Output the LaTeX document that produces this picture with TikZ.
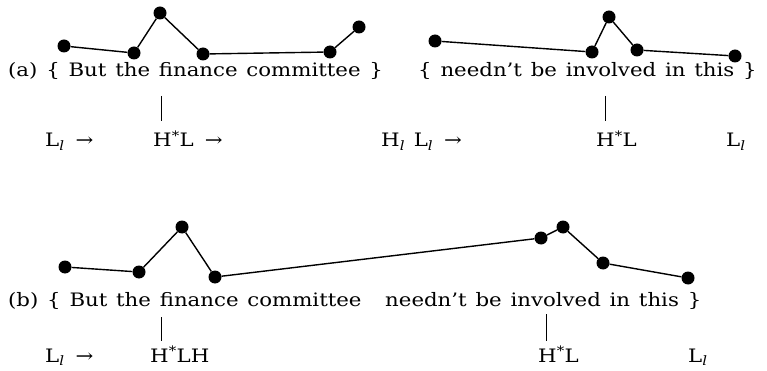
\documentclass[tikz,border=0pt]{standalone}
\usepackage{fontspec}
\setmainfont[FakeStretch=1.15,WordSpace=1.3]{DejaVu Serif}
\usepackage{tikz}
\usetikzlibrary{positioning}

\newcommand{\Lsub}{L\textsubscript{\itshape l}}
\newcommand{\Hsub}{H\textsubscript{\itshape l}}
\newcommand{\Hstar}{H\textsuperscript{*}}
\newcommand{\toarr}{\hspace{11pt}→}

\begin{document}
\begin{tikzpicture}[
  x=1pt, y=-1pt,
  every node/.style={font=\fontsize{18.5}{22}\selectfont},
  dot/.style={circle, fill=black, inner sep=0pt, minimum size=13pt},
  words/.style={anchor=base west, inner sep=0pt},
  tone/.style={anchor=base west, inner sep=0pt},
  contour/.style={line width=1.4pt},
  assoc/.style={line width=0.9pt}
]
\useasboundingbox (0,0) rectangle (767,371);

% (a) two phrases
\node[dot] (a1)  at (64,46)  {};
\node[dot] (a2)  at (134,53) {};
\node[dot] (a3)  at (160,13) {};
\node[dot] (a4)  at (203,54) {};
\node[dot] (a5)  at (330,52) {};
\node[dot] (a6)  at (359,27) {};
\node[dot] (a7)  at (435,41) {};
\node[dot] (a8)  at (592,52) {};
\node[dot] (a9)  at (609,17) {};
\node[dot] (a10) at (637,50) {};
\node[dot] (a11) at (735,56) {};
\draw[contour] (a1) -- (a2) -- (a3) -- (a4) -- (a5) -- (a6);
\draw[contour] (a7) -- (a8) -- (a9) -- (a10) -- (a11);

\node[words] (sa1) at (8,77)   {(a) \{ But the finance committee \}};
\node[words] (sa2) at (418,77) {\{ needn’t be involved in this \}};

\coordinate (ta1) at (161,96);  \coordinate (ba1) at (161,121);
\coordinate (ta2) at (605,96);  \coordinate (ba2) at (605,121);
\draw[assoc] (ta1) -- (ba1);
\draw[assoc] (ta2) -- (ba2);

\node[tone] (la1) at (45,147)  {\Lsub\toarr};
\node[tone] (la2) at (153,147) {\Hstar L\toarr};
\node[tone] (la3) at (381,147) {\Hsub\ \Lsub\toarr};
\node[tone] (la4) at (596,147) {\Hstar L};
\node[tone] (la5) at (726,147) {\Lsub};

% (b) one phrase
\node[dot] (b1) at (65,267)  {};
\node[dot] (b2) at (139,272) {};
\node[dot] (b3) at (182,227) {};
\node[dot] (b4) at (215,277) {};
\node[dot] (b5) at (541,238) {};
\node[dot] (b6) at (563,227) {};
\node[dot] (b7) at (603,263) {};
\node[dot] (b8) at (688,278) {};
\draw[contour] (b1) -- (b2) -- (b3) -- (b4) -- (b5) -- (b6) -- (b7) -- (b8);

\node[words] (sb1) at (8,306)   {(b) \{ But the finance committee};
\node[words] (sb2) at (385,306) {needn’t be involved in this \}};

\coordinate (tb1) at (161,317); \coordinate (bb1) at (161,341);
\coordinate (tb2) at (546,314); \coordinate (bb2) at (546,341);
\draw[assoc] (tb1) -- (bb1);
\draw[assoc] (tb2) -- (bb2);

\node[tone] (lb1) at (45,362)  {\Lsub\toarr};
\node[tone] (lb2) at (150,362) {\Hstar LH};
\node[tone] (lb3) at (538,362) {\Hstar L};
\node[tone] (lb4) at (688,362) {\Lsub};
\end{tikzpicture}
\end{document}
